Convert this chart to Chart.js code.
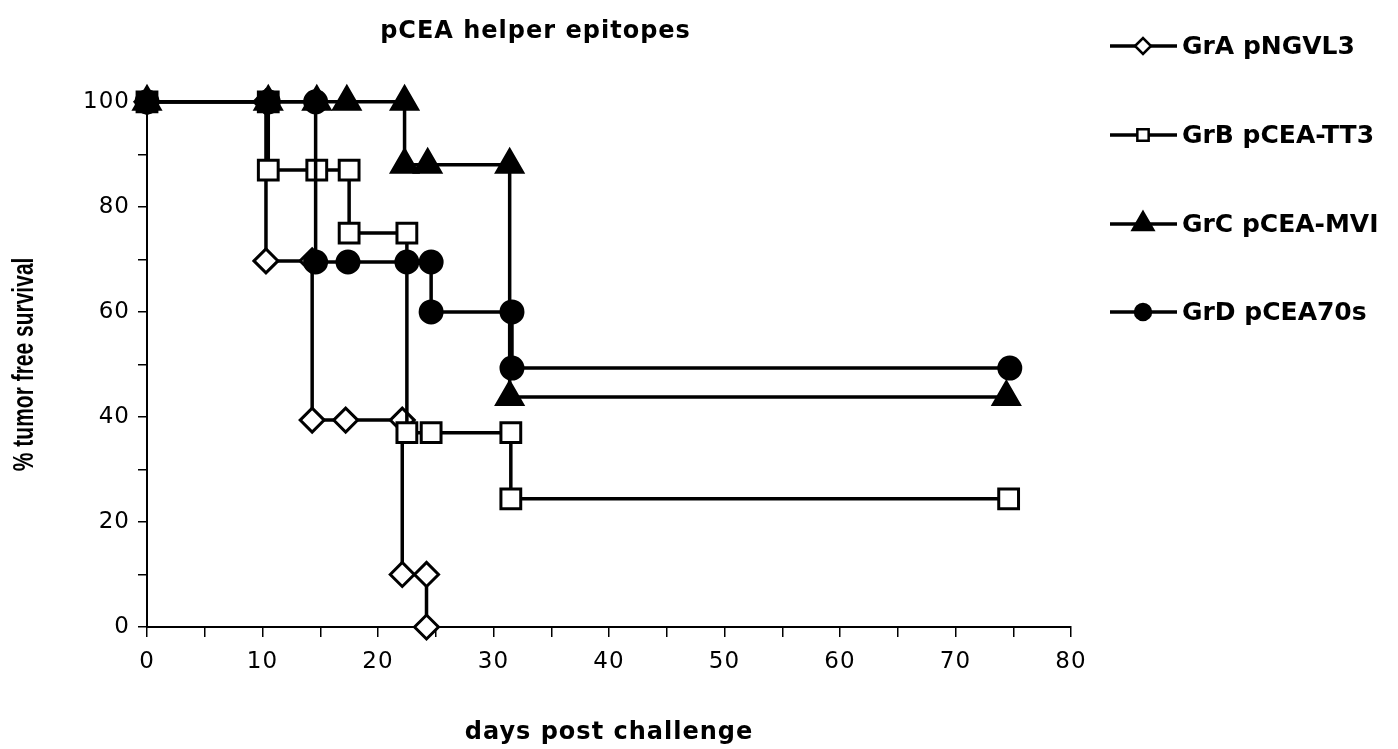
<!DOCTYPE html>
<html>
<head>
<meta charset="utf-8">
<script src="https://cdn.jsdelivr.net/npm/chart.js@4/dist/chart.umd.min.js"></script>
<style>
  html, body { margin: 0; padding: 0; background: #fff; }
  #wrap { width: 1398px; height: 749px; position: relative; }
</style>
</head>
<body>
<div id="wrap"><canvas id="survivalChart"></canvas></div>
<script>
// 生存曲线数据 (Kaplan-Meier 阶梯点)
const groupLabels = ['GrA pNGVL3', 'GrB pCEA-TT3', 'GrC pCEA-MVI', 'GrD pCEA70s'];

const daysA = [0, 10.3, 10.3, 14.3, 14.3, 17.2, 22.1, 22.1, 24.2, 24.2];
const survA = [100, 100, 69.7, 69.7, 39.4, 39.4, 39.4, 10, 10, 0];

const daysB = [0, 10.5, 10.5, 14.7, 17.5, 17.5, 22.5, 22.5, 24.6, 31.5, 31.5, 74.6];
const survB = [100, 100, 87, 87, 87, 75, 75, 37, 37, 37, 24.4, 24.4];

const daysC = [0, 10.5, 14.7, 17.3, 22.3, 22.3, 24.3, 31.4, 31.4, 74.4];
const survC = [100, 100, 100, 100, 100, 88, 88, 88, 43.8, 43.8];

const daysD = [0, 10.5, 14.6, 14.6, 17.4, 22.5, 24.6, 24.6, 31.6, 31.6, 74.7];
const survD = [100, 100, 100, 69.5, 69.5, 69.5, 69.5, 60, 60, 49.3, 49.3];

const xTicks = [0, 10, 20, 30, 40, 50, 60, 70, 80];
const yTicks = [0, 20, 40, 60, 80, 100];

const FONT = "'DejaVu Sans', Verdana, sans-serif";
const FONT_NARROW = "'Liberation Sans', Arial, sans-serif";

const toPoints = (xs, ys) => xs.map((x, i) => ({ x, y: ys[i] }));

const styles = [
  { pointStyle: 'rectRot', radius: 12, fill: '#fff', legendRadius: 8 },
  { pointStyle: 'rect', radius: 14, fill: '#fff', legendRadius: 8 },
  { pointStyle: 'triangle', radius: 15, fill: '#000', legendRadius: 12 },
  { pointStyle: 'circle', radius: 11, fill: '#000', legendRadius: 8 },
];

const series = [toPoints(daysA, survA), toPoints(daysB, survB), toPoints(daysC, survC), toPoints(daysD, survD)];

const datasets = series.map((data, i) => ({
  label: groupLabels[i],
  data,
  showLine: true,
  borderColor: '#000',
  borderWidth: 3.5,
  backgroundColor: styles[i].fill,
  pointStyle: styles[i].pointStyle,
  pointRadius: styles[i].radius,
  pointBorderWidth: 3,
  pointBorderColor: '#000',
  pointBackgroundColor: styles[i].fill,
  clip: false,
  order: 4 - i,
}));

// 扫描原图文字偏宽，统一加一点字距
const spacing = {
  id: 'spacing',
  beforeDraw(chart) {
    chart.ctx.letterSpacing = '1px';
  }
};

// 右侧图例 + 纵轴标题
const sideLegend = {
  id: 'sideLegend',
  afterDraw(chart) {
    const ctx = chart.ctx;
    const rows = [46, 135, 224, 312];
    ctx.save();
    ctx.letterSpacing = '0px';
    rows.forEach((y, i) => {
      ctx.strokeStyle = '#000';
      ctx.lineWidth = 3.5;
      ctx.beginPath();
      ctx.moveTo(1110, y);
      ctx.lineTo(1177, y);
      ctx.stroke();
      ctx.fillStyle = styles[i].fill;
      ctx.lineWidth = 2.5;
      Chart.helpers.drawPoint(ctx, { pointStyle: styles[i].pointStyle, radius: styles[i].legendRadius, borderWidth: 2.5 }, 1143, y);
      ctx.fillStyle = '#000';
      ctx.font = `bold 25px ${FONT}`;
      ctx.textBaseline = 'middle';
      ctx.textAlign = 'left';
      ctx.fillText(groupLabels[i], 1182, y + 1);
    });

    // 纵轴标题：字形横向拉宽，与扫描件一致
    const area = chart.chartArea;
    ctx.translate(25, (area.top + area.bottom) / 2);
    ctx.rotate(-Math.PI / 2);
    ctx.scale(1, 1.4);
    ctx.font = `bold 21px ${FONT_NARROW}`;
    ctx.textAlign = 'center';
    ctx.textBaseline = 'middle';
    ctx.fillText('% tumor free survival', 0, 0);
    ctx.restore();
  }
};

new Chart(document.getElementById('survivalChart'), {
  type: 'scatter',
  data: { datasets },
  options: {
    responsive: true,
    maintainAspectRatio: false,
    animation: false,
    layout: { padding: { left: 0, top: 0, right: 327, bottom: 0 } },
    plugins: {
      legend: { display: false },
      tooltip: { enabled: false },
      title: {
        display: true,
        text: 'pCEA helper epitopes',
        color: '#000',
        font: { family: FONT, size: 24, weight: 'bold' },
        padding: { top: 17, bottom: 56 },
      },
    },
    scales: {
      x: {
        type: 'linear',
        min: 0,
        max: 80,
        afterFit: (s) => { s.height = 122; },
        afterBuildTicks: (s) => {
          s.ticks = [];
          for (let v = 0; v <= 80; v += 5) s.ticks.push({ value: v });
        },
        ticks: {
          color: '#000',
          font: { family: FONT, size: 23 },
          padding: 11,
          maxRotation: 0,
          autoSkip: false,
          callback: (v) => (xTicks.includes(v) ? v : ''),
        },
        grid: { display: true, drawOnChartArea: false, drawTicks: true, tickLength: 10, color: '#000', lineWidth: 1.5 },
        border: { display: true, color: '#000', width: 2 },
        title: {
          display: true,
          text: 'days post challenge',
          color: '#000',
          font: { family: FONT, size: 24, weight: 'bold' },
          padding: { top: 0, bottom: 2 },
        },
      },
      y: {
        type: 'linear',
        min: 0,
        max: 100,
        afterFit: (s) => { s.width = 147; },
        afterBuildTicks: (s) => {
          s.ticks = [];
          for (let v = 0; v <= 100; v += 10) s.ticks.push({ value: v });
        },
        ticks: {
          color: '#000',
          font: { family: FONT, size: 23 },
          padding: 8,
          autoSkip: false,
          callback: (v) => (yTicks.includes(v) ? v : ''),
        },
        grid: { display: true, drawOnChartArea: false, drawTicks: true, tickLength: 9, color: '#000', lineWidth: 1.5 },
        border: { display: true, color: '#000', width: 2 },
        title: { display: false },
      },
    },
  },
  plugins: [spacing, sideLegend],
});
</script>
</body>
</html>
